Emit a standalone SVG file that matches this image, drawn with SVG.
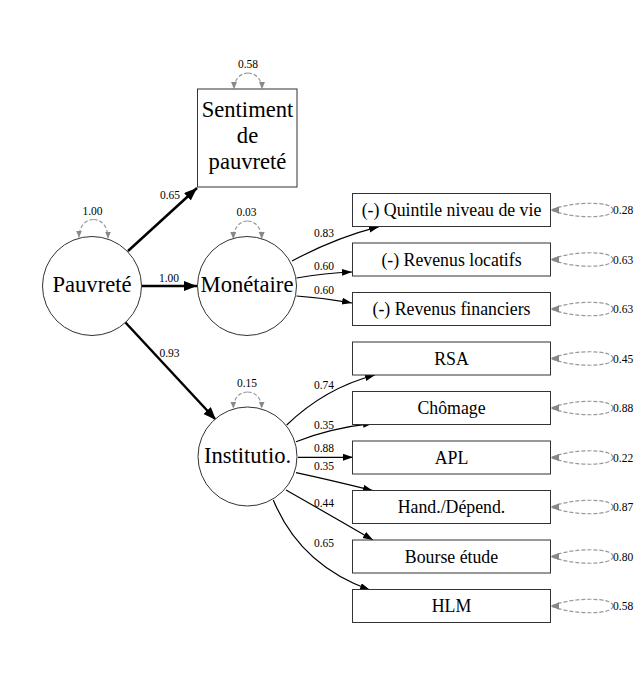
<svg xmlns="http://www.w3.org/2000/svg" width="640" height="680" viewBox="0 0 640 680">
<style>
.node{fill:#fff;stroke:#333;stroke-width:1}
.big{font-family:"Liberation Serif","Times New Roman",serif;font-size:22.6px;fill:#000;text-anchor:middle}
.box{font-family:"Liberation Serif","Times New Roman",serif;font-size:17.8px;fill:#000;text-anchor:middle}
.lab{font-family:"Liberation Serif","Times New Roman",serif;font-size:11.5px;fill:#000;text-anchor:middle}
.rlab{font-family:"Liberation Serif","Times New Roman",serif;font-size:11.5px;fill:#000}
.thick{fill:none;stroke:#000;stroke-width:2.5;marker-end:url(#mThick)}
.thin{fill:none;stroke:#000;stroke-width:1.2;marker-end:url(#mThin)}
.loop{fill:none;stroke:#999;stroke-width:1.2;stroke-dasharray:4,2;marker-end:url(#mGray)}
.rloop{fill:none;stroke:#999;stroke-width:1.2;stroke-dasharray:4,2;marker-end:url(#mGrayL)}
</style>
<defs>
<marker id="mThick" markerUnits="userSpaceOnUse" markerWidth="14" markerHeight="11" refX="13" refY="5" orient="auto"><path d="M0,0 L13,5 L0,10 z" fill="#000"/></marker>
<marker id="mThin" markerUnits="userSpaceOnUse" markerWidth="11" markerHeight="8" refX="10" refY="3.5" orient="auto"><path d="M0,0 L10,3.5 L0,7 z" fill="#000"/></marker>
<marker id="mGray" markerUnits="userSpaceOnUse" markerWidth="8" markerHeight="7" refX="7" refY="3" orient="auto"><path d="M0,0 L7,3 L0,6 z" fill="#888"/></marker>
<marker id="mGrayL" markerUnits="userSpaceOnUse" markerWidth="9" markerHeight="8" refX="8" refY="3.5" orient="180"><path d="M0,0 L8,3.5 L0,7 z" fill="#888"/></marker>
</defs>
<rect width="640" height="680" fill="#fff"/>

<g id="connectors">
<path class="thick" d="M128,251 L197,188"/>
<path class="thick" d="M142,286 L197,286"/>
<path class="thick" d="M125,322 L216,420"/>
<path class="thin" d="M292,261 Q335,238 379,226.7"/>
<path class="thin" d="M296.5,278 Q325,273 352,272"/>
<path class="thin" d="M296.5,296 Q325,298 352,303"/>
<path class="thin" d="M286.7,425 Q325,388 375,375"/>
<path class="thin" d="M296,441.7 Q330,428 373,423.3"/>
<path class="thin" d="M298,457.3 L353,457.3"/>
<path class="thin" d="M296,472.7 Q330,480 373,490.7"/>
<path class="thin" d="M286,490 Q330,515 373,540"/>
<path class="thin" d="M273.3,500 Q300,565 370,590"/>
<g id="loops">
<path class="loop" d="M248,73 C240,73 234,80 234,89"/>
<path class="loop" d="M248,73 C256,73 262,80 262,89"/>
<path class="loop" d="M93.5,219.5 C85,219.5 79,227 79,237.5"/>
<path class="loop" d="M93.5,219.5 C102,219.5 108,227 108,238.5"/>
<path class="loop" d="M247.5,221 C239,221 233.3,229 233.3,239"/>
<path class="loop" d="M247.5,221 C256,221 261.7,229 261.7,239"/>
<path class="loop" d="M247.5,392 C239,392 233.3,399 233.3,408.5"/>
<path class="loop" d="M247.5,392 C256,392 261.7,399 261.7,408.5"/>
<path class="rloop" d="M613,210 C613,201 572,201 551,210"/><path class="rloop" d="M613,210 C613,219 572,219 551,210"/>
<path class="rloop" d="M613,259.5 C613,250.5 572,250.5 551,259.5"/><path class="rloop" d="M613,259.5 C613,268.5 572,268.5 551,259.5"/>
<path class="rloop" d="M613,309 C613,300 572,300 551,309"/><path class="rloop" d="M613,309 C613,318 572,318 551,309"/>
<path class="rloop" d="M613,358.5 C613,349.5 572,349.5 551,358.5"/><path class="rloop" d="M613,358.5 C613,367.5 572,367.5 551,358.5"/>
<path class="rloop" d="M613,408 C613,399 572,399 551,408"/><path class="rloop" d="M613,408 C613,417 572,417 551,408"/>
<path class="rloop" d="M613,457.5 C613,448.5 572,448.5 551,457.5"/><path class="rloop" d="M613,457.5 C613,466.5 572,466.5 551,457.5"/>
<path class="rloop" d="M613,507 C613,498 572,498 551,507"/><path class="rloop" d="M613,507 C613,516 572,516 551,507"/>
<path class="rloop" d="M613,556.5 C613,547.5 572,547.5 551,556.5"/><path class="rloop" d="M613,556.5 C613,565.5 572,565.5 551,556.5"/>
<path class="rloop" d="M613,606 C613,597 572,597 551,606"/><path class="rloop" d="M613,606 C613,615 572,615 551,606"/>
</g>
<g id="edge-labels">
<text class="lab" x="170" y="199">0.65</text>
<text class="lab" x="169" y="282">1.00</text>
<text class="lab" x="169.5" y="356.5">0.93</text>
<text class="lab" x="324" y="237">0.83</text>
<text class="lab" x="324" y="270">0.60</text>
<text class="lab" x="324" y="293.5">0.60</text>
<text class="lab" x="324" y="389">0.74</text>
<text class="lab" x="324" y="428.5">0.35</text>
<text class="lab" x="324" y="452">0.88</text>
<text class="lab" x="324" y="470">0.35</text>
<text class="lab" x="324" y="507">0.44</text>
<text class="lab" x="324" y="547">0.65</text>
<text class="lab" x="248" y="68">0.58</text>
<text class="lab" x="92.5" y="215">1.00</text>
<text class="lab" x="246.5" y="215.5">0.03</text>
<text class="lab" x="247" y="387">0.15</text>
<text class="rlab" x="613" y="214">0.28</text>
<text class="rlab" x="613" y="263.5">0.63</text>
<text class="rlab" x="613" y="313">0.63</text>
<text class="rlab" x="613" y="362.5">0.45</text>
<text class="rlab" x="613" y="412">0.88</text>
<text class="rlab" x="613" y="461.5">0.22</text>
<text class="rlab" x="613" y="511">0.87</text>
<text class="rlab" x="613" y="560.5">0.80</text>
<text class="rlab" x="613" y="610">0.58</text>
</g>
</g>

<g id="n-pauvrete"><circle class="node" cx="92" cy="286" r="49.5"/><text class="big" x="92" y="292">Pauvreté</text></g>
<g id="n-monetaire"><circle class="node" cx="247" cy="286" r="49.5"/><text class="big" x="247" y="292">Monétaire</text></g>
<g id="n-institutio"><circle class="node" cx="247.5" cy="456.5" r="49.5"/><text class="big" x="247.5" y="463">Institutio.</text></g>
<g id="n-sentiment"><rect class="node" x="197.5" y="89" width="99.5" height="98"/>
<text class="big" x="247.5" y="117">Sentiment</text><text class="big" x="247.5" y="143">de</text><text class="big" x="247.5" y="168.5">pauvreté</text></g>
<g id="n-quintile"><rect class="node" x="352.5" y="193.5" width="198" height="33"/><text class="box" x="451.5" y="216">(-) Quintile niveau de vie</text></g>
<g id="n-locatifs"><rect class="node" x="352.5" y="243" width="198" height="33"/><text class="box" x="451.5" y="265.5">(-) Revenus locatifs</text></g>
<g id="n-financiers"><rect class="node" x="352.5" y="292.5" width="198" height="33"/><text class="box" x="451.5" y="315">(-) Revenus financiers</text></g>
<g id="n-rsa"><rect class="node" x="352.5" y="342" width="198" height="33"/><text class="box" x="451.5" y="364.5">RSA</text></g>
<g id="n-chomage"><rect class="node" x="352.5" y="391.5" width="198" height="33"/><text class="box" x="451.5" y="414">Chômage</text></g>
<g id="n-apl"><rect class="node" x="352.5" y="441" width="198" height="33"/><text class="box" x="451.5" y="463.5">APL</text></g>
<g id="n-hand"><rect class="node" x="352.5" y="490.5" width="198" height="33"/><text class="box" x="451.5" y="513">Hand./Dépend.</text></g>
<g id="n-bourse"><rect class="node" x="352.5" y="540" width="198" height="33"/><text class="box" x="451.5" y="562.5">Bourse étude</text></g>
<g id="n-hlm"><rect class="node" x="352.5" y="589.5" width="198" height="33"/><text class="box" x="451.5" y="612">HLM</text></g>
</svg>
